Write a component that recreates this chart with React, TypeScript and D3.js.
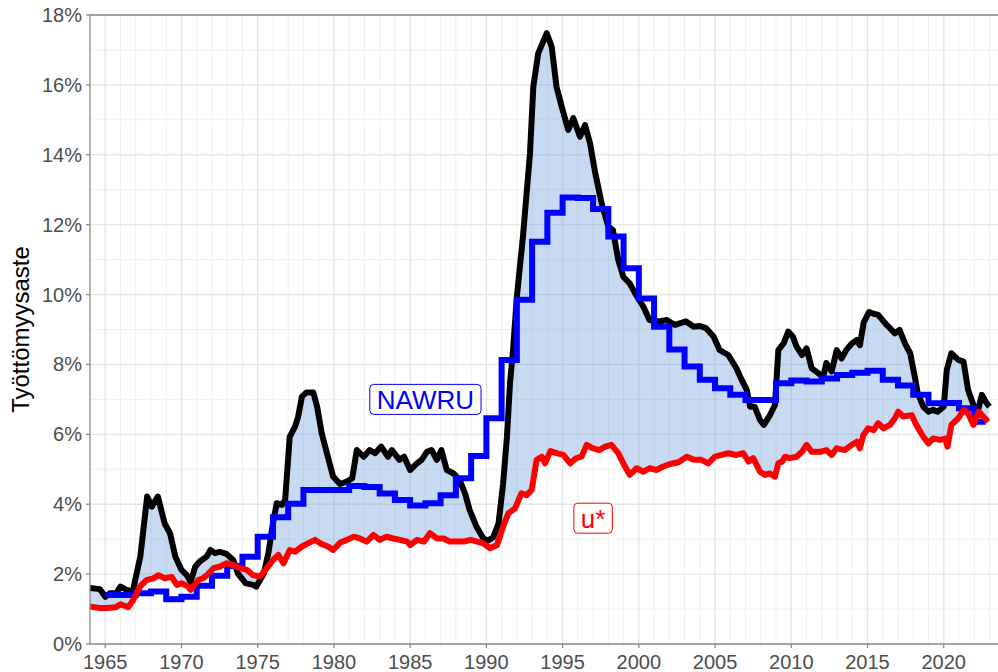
import { useRef, useEffect } from 'react';
import * as d3 from 'd3';

const W = 998;
const H = 672;

// Työttömyysaste (musta), neljännesvuosittain
const unempTime = [
	1964.0, 1964.65, 1965.0, 1965.3, 1965.7, 1966.0, 1966.4, 1966.8, 1967.3, 1967.65,
	1967.75, 1968.05, 1968.45, 1968.9, 1969.25, 1969.6, 1970.0, 1970.35, 1970.6, 1970.9,
	1971.2, 1971.65, 1971.9, 1972.2, 1972.5, 1972.95, 1973.4, 1973.7, 1974.2, 1974.7,
	1974.9, 1975.4, 1975.7, 1976.0, 1976.25, 1976.6, 1976.8, 1977.1, 1977.45, 1977.65,
	1977.9, 1978.2, 1978.65, 1978.9, 1979.2, 1979.6, 1979.95, 1980.4, 1980.85, 1981.2,
	1981.5, 1981.95, 1982.35, 1982.7, 1983.1, 1983.55, 1983.8, 1984.3, 1984.6, 1985.0,
	1985.45, 1985.75, 1986.1, 1986.4, 1986.75, 1987.05, 1987.4, 1987.85, 1988.25, 1988.6,
	1988.9, 1989.35, 1989.8, 1990.1, 1990.45, 1990.8, 1991.1, 1991.35, 1991.55, 1991.75,
	1992.0, 1992.4, 1992.86, 1993.08, 1993.4, 1993.96, 1994.28, 1994.6, 1994.94, 1995.37,
	1995.7, 1996.14, 1996.47, 1996.8, 1997.1, 1997.56, 1998.0, 1998.3, 1998.65, 1998.98,
	1999.4, 1999.75, 2000.3, 2000.7, 2001.3, 2001.83, 2002.37, 2003.1, 2003.6, 2004.0,
	2004.4, 2004.9, 2005.3, 2005.87, 2006.4, 2006.7, 2007.08, 2007.3, 2007.6, 2007.95,
	2008.2, 2008.6, 2008.93, 2009.15, 2009.5, 2009.8, 2010.1, 2010.35, 2010.7, 2011.0,
	2011.34, 2011.77, 2012.1, 2012.3, 2012.65, 2012.98, 2013.3, 2013.6, 2013.97, 2014.3,
	2014.5, 2014.75, 2015.1, 2015.4, 2015.7, 2016.26, 2016.8, 2017.1, 2017.46, 2017.8,
	2018.1, 2018.3, 2018.66, 2019.0, 2019.3, 2019.6, 2020.0, 2020.2, 2020.5, 2020.96,
	2021.3, 2021.6, 2021.95, 2022.2, 2022.5, 2022.8, 2023.0,
];
const unempRate = [
	1.6, 1.57, 1.35, 1.45, 1.45, 1.64, 1.55, 1.5, 2.5, 3.84,
	4.22, 3.93, 4.22, 3.45, 3.17, 2.5, 2.12, 1.97, 1.78, 2.21,
	2.36, 2.5, 2.69, 2.6, 2.64, 2.58, 2.4, 2.02, 1.74, 1.69,
	1.64, 2.02, 2.6, 3.45, 4.03, 3.98, 4.12, 5.93, 6.22, 6.5,
	7.08, 7.2, 7.2, 6.79, 6.03, 5.36, 4.79, 4.58, 4.65, 4.74,
	5.55, 5.36, 5.55, 5.46, 5.65, 5.36, 5.55, 5.27, 5.36, 4.98,
	5.17, 5.27, 5.5, 5.55, 5.27, 5.55, 4.98, 4.88, 4.69, 4.31,
	3.84, 3.36, 3.02, 2.96, 3.05, 3.45, 4.6, 5.93, 7.46, 8.41,
	9.94, 11.66, 14.04, 15.95, 16.9, 17.48, 17.1, 15.95, 15.38, 14.71,
	15.05, 14.52, 14.85, 14.33, 13.57, 12.61, 11.94, 11.85, 10.99, 10.51,
	10.32, 10.04, 9.65, 9.27, 9.23, 9.27, 9.13, 9.23, 9.08, 9.1,
	9.04, 8.8, 8.41, 8.27, 7.89, 7.6, 7.27, 6.79, 6.79, 6.41,
	6.27, 6.55, 6.84, 8.41, 8.6, 8.94, 8.8, 8.51, 8.27, 8.46,
	7.89, 7.75, 7.65, 8.04, 7.8, 8.41, 8.17, 8.41, 8.6, 8.7,
	8.55, 9.2, 9.5, 9.45, 9.42, 9.13, 8.89, 8.99, 8.6, 8.32,
	7.65, 7.17, 6.79, 6.65, 6.7, 6.65, 6.79, 7.84, 8.32, 8.13,
	8.08, 7.27, 6.84, 6.6, 7.13, 6.9, 6.79,
];

// u* (punainen)
const uStarTime = [
	1964.0, 1964.65, 1965.1, 1965.7, 1966.0, 1966.5, 1966.84, 1967.28, 1967.7, 1968.15,
	1968.5, 1968.9, 1969.35, 1969.7, 1970.0, 1970.45, 1970.6, 1971.1, 1971.4, 1971.75,
	1972.1, 1972.5, 1972.96, 1973.4, 1973.84, 1974.3, 1974.7, 1975.15, 1975.6, 1976.0,
	1976.35, 1976.7, 1977.1, 1977.45, 1977.9, 1978.3, 1978.76, 1979.1, 1979.6, 1979.95,
	1980.4, 1980.85, 1981.3, 1981.7, 1982.15, 1982.6, 1983.0, 1983.45, 1983.9, 1984.33,
	1984.8, 1985.0, 1985.45, 1985.9, 1986.3, 1986.75, 1987.2, 1987.6, 1988.1, 1988.5,
	1988.97, 1989.4, 1989.8, 1990.24, 1990.7, 1991.1, 1991.44, 1991.88, 1992.3, 1992.65,
	1992.97, 1993.3, 1993.63, 1993.85, 1994.2, 1994.6, 1995.05, 1995.5, 1995.9, 1996.25,
	1996.58, 1997.0, 1997.4, 1997.8, 1998.2, 1998.65, 1998.98, 1999.4, 1999.86, 2000.3,
	2000.7, 2001.17, 2001.6, 2002.05, 2002.6, 2003.15, 2003.6, 2004.1, 2004.55, 2004.99,
	2005.43, 2005.87, 2006.4, 2006.85, 2007.2, 2007.5, 2007.95, 2008.28, 2008.6, 2008.93,
	2009.15, 2009.4, 2009.6, 2009.9, 2010.35, 2010.7, 2011.0, 2011.35, 2011.9, 2012.3,
	2012.65, 2012.98, 2013.5, 2013.97, 2014.3, 2014.5, 2014.73, 2015.05, 2015.4, 2015.7,
	2016.05, 2016.48, 2016.8, 2017.02, 2017.35, 2017.9, 2018.2, 2018.66, 2019.0, 2019.3,
	2019.76, 2020.1, 2020.25, 2020.5, 2020.96, 2021.3, 2021.6, 2021.95, 2022.3, 2022.6,
	2022.9,
];
const uStarRate = [
	1.07, 1.03, 1.03, 1.05, 1.14, 1.05, 1.26, 1.64, 1.83, 1.88,
	1.97, 1.88, 1.92, 1.69, 1.74, 1.64, 1.55, 1.83, 1.88, 2.0,
	2.17, 2.21, 2.31, 2.26, 2.17, 2.12, 1.97, 1.93, 2.17, 2.4,
	2.55, 2.31, 2.69, 2.64, 2.79, 2.88, 2.98, 2.88, 2.79, 2.69,
	2.9, 2.98, 3.07, 3.02, 2.93, 3.12, 2.98, 3.07, 3.02, 2.98,
	2.93, 2.83, 2.98, 2.93, 3.17, 3.02, 3.02, 2.93, 2.93, 2.93,
	2.98, 2.93, 2.88, 2.74, 2.83, 3.36, 3.74, 3.88, 4.31, 4.26,
	4.41, 5.27, 5.36, 5.17, 5.52, 5.46, 5.41, 5.17, 5.32, 5.36,
	5.7, 5.6, 5.55, 5.65, 5.7, 5.46, 5.17, 4.84, 5.03, 4.93,
	5.03, 4.98, 5.08, 5.15, 5.2, 5.36, 5.27, 5.27, 5.17, 5.36,
	5.41, 5.46, 5.41, 5.46, 5.22, 5.32, 4.93, 4.84, 4.88, 4.79,
	5.17, 5.22, 5.36, 5.32, 5.36, 5.5, 5.7, 5.5, 5.5, 5.55,
	5.41, 5.6, 5.55, 5.7, 5.79, 5.6, 5.98, 6.17, 6.12, 6.32,
	6.17, 6.27, 6.46, 6.65, 6.51, 6.55, 6.27, 5.93, 5.74, 5.88,
	5.84, 5.88, 5.65, 6.27, 6.46, 6.7, 6.6, 6.27, 6.65, 6.51,
	6.36,
];

// NAWRU (sininen), vuosittain
const nawruYears = d3.range(1965, 2023);
const nawruRate = [
	1.4, 1.4, 1.45, 1.5, 1.28, 1.35, 1.67, 1.95, 2.23, 2.5,
	3.07, 3.63, 4.01, 4.41, 4.41, 4.41, 4.52, 4.49, 4.31, 4.12,
	3.96, 4.03, 4.26, 4.74, 5.38, 6.46, 8.13, 9.85, 11.51, 12.34,
	12.78, 12.76, 12.45, 11.66, 10.75, 9.89, 9.08, 8.43, 7.94, 7.56,
	7.32, 7.13, 6.98, 6.98, 7.46, 7.54, 7.51, 7.6, 7.7, 7.76,
	7.82, 7.56, 7.4, 7.13, 6.89, 6.9, 6.75, 6.36,
];
const nawruEnd = 2022.75;

const yTicks = [0, 2, 4, 6, 8, 10, 12, 14, 16, 18];
const xTicks = [1965, 1970, 1975, 1980, 1985, 1990, 1995, 2000, 2005, 2010, 2015, 2020];

const labels = [
	{ text: 'NAWRU', year: 1986, value: 7.0, color: '#0000ff' },
	{ text: 'u*', year: 1997, value: 3.6, color: '#ff0000' },
];

export default function App() {
	const svgRef = useRef<SVGSVGElement>(null);

	useEffect(() => {
		document.body.style.margin = '0';
		const svg = d3.select(svgRef.current);
		svg.selectAll('*').remove();

		const left = 90;
		const top = 15;
		const bottom = 644;
		const x = d3.scaleLinear().domain([1964, 2023.56]).range([left, W]);
		const y = d3.scaleLinear().domain([0, 18]).range([bottom, top]);

		// Grid
		const grid = svg.append('g');
		const minorX = d3.range(1965, 2024).filter((v) => v % 5 !== 0);
		const minorY = d3.range(1, 18, 2);
		grid.selectAll('line.mx')
			.data(minorX)
			.join('line')
			.attr('x1', (d) => x(d))
			.attr('x2', (d) => x(d))
			.attr('y1', top)
			.attr('y2', bottom)
			.attr('stroke', '#f0f0f0')
			.attr('stroke-width', 1);
		grid.selectAll('line.my')
			.data(minorY)
			.join('line')
			.attr('x1', left)
			.attr('x2', W)
			.attr('y1', (d) => y(d))
			.attr('y2', (d) => y(d))
			.attr('stroke', '#f0f0f0')
			.attr('stroke-width', 1);
		grid.selectAll('line.Mx')
			.data(xTicks)
			.join('line')
			.attr('x1', (d) => x(d))
			.attr('x2', (d) => x(d))
			.attr('y1', top)
			.attr('y2', bottom)
			.attr('stroke', '#e6e6e6')
			.attr('stroke-width', 1.4);
		grid.selectAll('line.My')
			.data(yTicks.slice(1))
			.join('line')
			.attr('x1', left)
			.attr('x2', W)
			.attr('y1', (d) => y(d))
			.attr('y2', (d) => y(d))
			.attr('stroke', '#e6e6e6')
			.attr('stroke-width', 1.4);

		// Ribbon between unemployment and u*
		const unempPts: [number, number][] = unempTime.map((t, i) => [x(t), y(unempRate[i])]);
		const uStarPts: [number, number][] = uStarTime.map((t, i) => [x(t), y(uStarRate[i])]);
		const poly = unempPts.concat(uStarPts.slice().reverse());
		svg.append('path')
			.attr('d', (d3.line()(poly) ?? '') + 'Z')
			.attr('fill', 'rgb(80,140,210)')
			.attr('fill-opacity', 0.32)
			.attr('fill-rule', 'nonzero');

		const line = d3.line<[number, number]>().curve(d3.curveLinear);

		// Unemployment
		svg.append('path')
			.attr('d', line(unempPts))
			.attr('fill', 'none')
			.attr('stroke', '#000')
			.attr('stroke-width', 6)
			.attr('stroke-linejoin', 'round');

		// NAWRU step
		const nawruPts: [number, number][] = nawruYears.map((t, i) => [x(t), y(nawruRate[i])]);
		nawruPts.push([x(nawruEnd), y(nawruRate[nawruRate.length - 1])]);
		svg.append('path')
			.attr('d', d3.line().curve(d3.curveStepAfter)(nawruPts))
			.attr('fill', 'none')
			.attr('stroke', '#0000ff')
			.attr('stroke-width', 6)
			.attr('stroke-linejoin', 'miter');

		// u*
		svg.append('path')
			.attr('d', line(uStarPts))
			.attr('fill', 'none')
			.attr('stroke', '#ff0000')
			.attr('stroke-width', 6)
			.attr('stroke-linejoin', 'round');

		// Axes lines
		svg.append('line')
			.attr('x1', left).attr('x2', left)
			.attr('y1', top).attr('y2', bottom)
			.attr('stroke', '#8a8a8a').attr('stroke-width', 1.3);
		svg.append('line')
			.attr('x1', left).attr('x2', W)
			.attr('y1', bottom).attr('y2', bottom)
			.attr('stroke', '#8a8a8a').attr('stroke-width', 1.3);
		svg.append('line')
			.attr('x1', left).attr('x2', W)
			.attr('y1', top).attr('y2', top)
			.attr('stroke', '#8a8a8a').attr('stroke-width', 1.3);

		// Y ticks and labels
		const yAx = svg.append('g');
		yAx.selectAll('line')
			.data(yTicks)
			.join('line')
			.attr('x1', left - 4).attr('x2', left)
			.attr('y1', (d) => y(d)).attr('y2', (d) => y(d))
			.attr('stroke', '#8a8a8a').attr('stroke-width', 1.3);
		yAx.selectAll('text')
			.data(yTicks)
			.join('text')
			.attr('x', left - 8)
			.attr('y', (d) => y(d) + 7)
			.attr('text-anchor', 'end')
			.attr('font-size', 20)
			.attr('fill', '#4d4d4d')
			.text((d) => `${d}%`);

		// X ticks and labels
		const xAx = svg.append('g');
		xAx.selectAll('line')
			.data(xTicks)
			.join('line')
			.attr('x1', (d) => x(d)).attr('x2', (d) => x(d))
			.attr('y1', bottom).attr('y2', bottom + 4)
			.attr('stroke', '#8a8a8a').attr('stroke-width', 1.3);
		xAx.selectAll('text')
			.data(xTicks)
			.join('text')
			.attr('x', (d) => x(d))
			.attr('y', 669)
			.attr('text-anchor', 'middle')
			.attr('font-size', 20)
			.attr('fill', '#4d4d4d')
			.text((d) => String(d));

		// Y title
		svg.append('text')
			.attr('transform', `translate(29,${(top + bottom) / 2}) rotate(-90)`)
			.attr('text-anchor', 'middle')
			.attr('font-size', 24)
			.attr('fill', '#000')
			.text('Työttömyysaste');

		// Labels
		labels.forEach((l) => {
			const lg = svg.append('g');
			const cx = x(l.year);
			const cy = y(l.value);
			const rect = lg.append('rect');
			const txt = lg.append('text')
				.attr('x', cx)
				.attr('y', cy + 9.3)
				.attr('text-anchor', 'middle')
				.attr('font-size', 26)
				.attr('fill', l.color)
				.text(l.text);
			const bb = (txt.node() as SVGTextElement).getBBox();
			const bw = bb.width + 14;
			const bh = 30;
			rect.attr('x', cx - bw / 2)
				.attr('y', cy - bh / 2)
				.attr('width', bw)
				.attr('height', bh)
				.attr('rx', 4)
				.attr('fill', '#fff')
				.attr('stroke', l.color)
				.attr('stroke-width', 1);
		});
	}, []);

	return (
		<svg
			ref={svgRef}
			width={W}
			height={H}
			style={{
				display: 'block',
				background: '#fff',
				fontFamily: '"Liberation Sans", Arial, sans-serif',
			}}
		/>
	);
}
